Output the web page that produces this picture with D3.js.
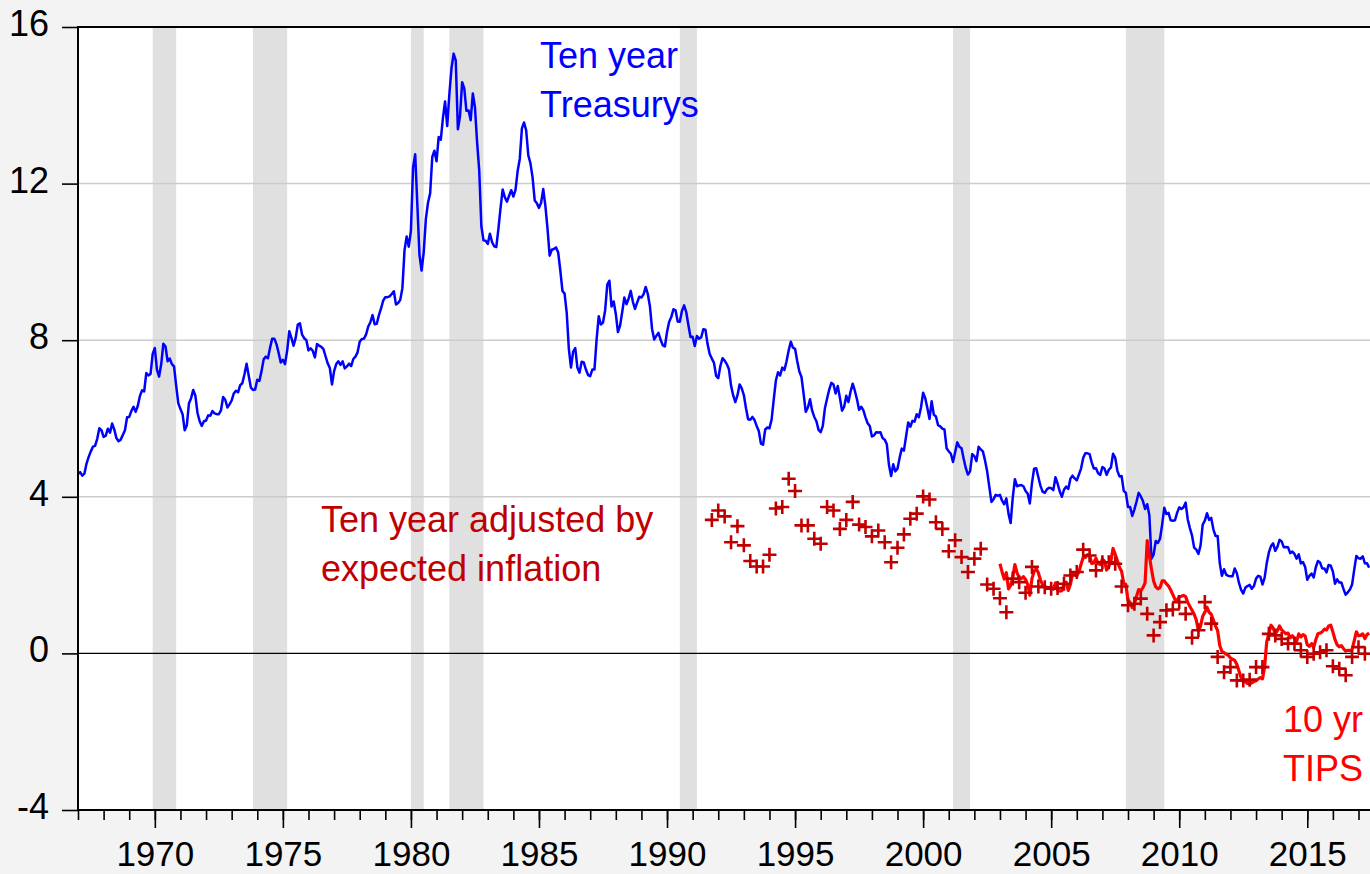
<!DOCTYPE html>
<html>
<head>
<meta charset="utf-8">
<script src="https://cdn.jsdelivr.net/npm/d3@7"></script>
<style>
html,body{margin:0;padding:0;background:#f3f3f3;}
svg{display:block;font-family:"Liberation Sans",Arial,sans-serif;}
</style>
</head>
<body>
<svg id="chart" width="1370" height="874"></svg>
<script>
// ---------------- DATA ----------------
// Ten-year Treasury yield, monthly, starting 1967-01
const treasuryStart = 1967;
const treasury10y = [
4.58,4.63,4.54,4.59,4.85,5.02,5.16,5.28,5.30,5.48,5.75,5.70,
5.53,5.56,5.74,5.64,5.87,5.72,5.50,5.42,5.46,5.58,5.70,6.03,
6.04,6.19,6.30,6.17,6.32,6.57,6.72,6.69,7.16,7.10,7.14,7.65,
7.80,7.24,7.07,7.39,7.91,7.84,7.46,7.53,7.39,7.33,6.84,6.39,
6.24,6.11,5.70,5.83,6.39,6.52,6.73,6.58,6.14,5.93,5.81,5.93,
5.95,6.08,6.07,6.19,6.13,6.11,6.11,6.21,6.55,6.48,6.28,6.36,
6.46,6.64,6.71,6.67,6.85,6.90,7.13,7.40,7.09,6.79,6.73,6.74,
6.99,6.96,7.21,7.51,7.58,7.54,7.81,8.04,8.04,7.90,7.68,7.43,
7.50,7.39,7.73,8.23,8.06,7.86,8.06,8.40,8.43,8.14,8.05,8.00,
7.74,7.79,7.73,7.56,7.90,7.86,7.83,7.77,7.59,7.41,7.29,6.87,
7.21,7.39,7.46,7.37,7.46,7.28,7.33,7.40,7.34,7.52,7.58,7.69,
7.96,8.03,8.04,8.15,8.35,8.46,8.64,8.41,8.42,8.64,8.81,9.01,
9.10,9.10,9.12,9.18,9.25,8.91,8.95,9.03,9.33,10.30,10.65,10.39,
10.80,12.41,12.75,11.47,10.18,9.78,10.25,11.10,11.51,11.75,12.68,12.84,
12.57,13.19,13.12,13.68,14.10,13.47,14.28,14.94,15.32,15.15,13.39,13.72,
14.59,14.43,13.86,13.87,13.62,14.30,13.95,13.06,12.34,10.91,10.55,10.54,
10.46,10.72,10.51,10.40,10.38,10.85,11.38,11.85,11.65,11.54,11.69,11.83,
11.67,11.84,12.32,12.63,13.41,13.56,13.36,12.72,12.52,12.16,11.57,11.50,
11.38,11.51,11.86,11.43,10.85,10.16,10.31,10.33,10.37,10.24,9.78,9.26,
9.19,8.70,7.78,7.30,7.71,7.80,7.30,7.17,7.45,7.43,7.25,7.11,
7.08,7.25,7.25,8.02,8.61,8.40,8.45,8.76,9.42,9.52,8.86,8.99,
8.67,8.21,8.37,8.72,9.09,8.92,9.06,9.26,8.98,8.80,8.96,9.11,
9.09,9.17,9.36,9.18,8.86,8.28,8.02,8.11,8.19,8.01,7.87,7.84,
8.21,8.47,8.59,8.79,8.76,8.48,8.47,8.75,8.89,8.72,8.39,8.08,
8.09,7.85,8.11,8.04,8.07,8.28,8.27,7.90,7.65,7.53,7.42,7.09,
7.03,7.34,7.54,7.48,7.39,7.26,6.84,6.59,6.42,6.59,6.87,6.77,
6.60,6.26,5.98,5.97,6.04,5.96,5.81,5.68,5.36,5.33,5.72,5.77,
5.75,5.97,6.48,6.97,7.18,7.10,7.30,7.24,7.46,7.74,7.96,7.81,
7.78,7.47,7.20,7.06,6.63,6.17,6.28,6.49,6.20,6.04,5.93,5.71,
5.65,5.81,6.27,6.51,6.74,6.91,6.87,6.64,6.83,6.53,6.20,6.30,
6.58,6.42,6.69,6.89,6.71,6.49,6.22,6.30,6.21,6.03,5.88,5.81,
5.54,5.57,5.65,5.64,5.65,5.50,5.46,5.34,4.81,4.53,4.83,4.65,
4.72,5.00,5.23,5.18,5.54,5.90,5.79,5.94,5.92,6.11,6.03,6.28,
6.66,6.52,6.26,5.99,6.44,6.10,6.05,5.83,5.80,5.74,5.72,5.24,
5.16,5.10,4.89,5.14,5.39,5.28,5.24,4.97,4.73,4.57,4.65,5.09,
5.04,4.91,5.28,5.21,5.16,4.93,4.65,4.26,3.87,3.94,4.05,4.03,
4.05,3.90,3.81,3.96,3.57,3.33,3.98,4.45,4.27,4.29,4.30,4.27,
4.15,4.08,3.83,4.35,4.72,4.73,4.50,4.28,4.13,4.10,4.19,4.23,
4.22,4.17,4.50,4.34,4.14,4.00,4.18,4.26,4.20,4.46,4.54,4.47,
4.42,4.57,4.72,4.99,5.11,5.11,5.09,4.88,4.72,4.73,4.60,4.56,
4.76,4.72,4.56,4.69,4.75,5.10,5.00,4.67,4.52,4.53,4.15,4.10,
3.74,3.74,3.51,3.68,3.88,4.10,4.01,3.89,3.69,3.81,3.53,2.42,
2.52,2.87,2.82,2.93,3.29,3.72,3.56,3.59,3.40,3.39,3.40,3.59,
3.73,3.69,3.73,3.85,3.42,3.20,3.01,2.70,2.65,2.54,2.76,3.29,
3.39,3.58,3.41,3.46,3.17,3.00,3.00,2.30,1.98,2.15,2.01,1.98,
1.97,1.97,2.17,2.05,1.80,1.62,1.53,1.68,1.72,1.75,1.65,1.72,
1.91,1.98,1.96,1.76,1.93,2.30,2.58,2.74,2.81,2.62,2.72,2.90,
2.86,2.71,2.72,2.71,2.56,2.60,2.54,2.42,2.53,2.30,2.33,2.21,
1.88,1.98,2.04,1.94,2.20,2.36,2.32,2.17,2.17,2.07,2.26,2.24,
2.09,1.78,1.89,1.81,1.81,1.64,1.50,1.56,1.63,1.76,2.14,2.49,
2.43,2.42,2.48,2.30,2.30,2.19
];

// Ten-year TIPS yield, monthly, starting 2003-01
const tipsStart = 2003;
const tips10y = [
2.29,2.08,1.90,2.06,1.65,1.73,1.94,2.27,2.06,1.93,1.91,1.96,
1.89,1.76,1.49,1.91,2.10,2.16,2.06,1.87,1.75,1.71,1.69,1.68,
1.69,1.64,1.80,1.62,1.59,1.60,1.77,1.82,1.61,1.76,2.02,2.04,
1.98,2.08,2.28,2.45,2.45,2.52,2.50,2.30,2.31,2.43,2.30,2.27,
2.41,2.35,2.13,2.22,2.37,2.68,2.53,2.37,2.20,2.10,1.79,1.76,
1.35,1.30,1.17,1.26,1.46,1.63,1.60,1.68,1.80,2.88,2.50,2.15,
1.85,1.70,1.65,1.68,1.85,1.85,1.78,1.72,1.62,1.50,1.38,1.35,
1.45,1.46,1.48,1.45,1.30,1.20,1.10,1.00,0.85,0.58,0.70,0.95,
1.05,1.18,1.05,1.00,0.85,0.70,0.58,0.20,0.05,0.02,-0.02,-0.05,
-0.12,-0.15,-0.18,-0.28,-0.45,-0.62,-0.72,-0.72,-0.77,-0.78,-0.75,-0.72,
-0.70,-0.65,-0.62,-0.65,-0.35,0.30,0.50,0.72,0.65,0.50,0.58,0.70,
0.60,0.55,0.50,0.52,0.40,0.45,0.38,0.30,0.50,0.42,0.48,0.45,
0.22,0.18,0.25,0.15,0.35,0.50,0.52,0.55,0.62,0.60,0.70,0.72,
0.55,0.35,0.22,0.17,0.20,0.12,0.06,0.08,0.07,0.10,0.32,0.55,
0.45,0.46,0.50,0.38,0.48,0.52
];

// Ten-year yield adjusted by expected inflation, quarterly, starting 1991Q4
const realStart = 1991.75;
const realAdjusted = [
3.41,
3.65,3.50,2.84,3.25,
2.76,2.36,2.22,2.22,
2.52,3.70,3.74,4.46,
4.15,3.27,3.27,2.93,
2.80,3.74,3.65,3.18,
3.41,3.87,3.29,3.23,
2.99,3.14,2.84,2.33,
2.70,3.04,3.44,3.57,
4.01,3.93,3.35,3.18,
2.61,2.89,2.46,2.08,
2.42,2.67,1.76,1.65,
1.41,1.05,1.91,1.82,
1.55,2.21,1.71,1.69,
1.65,1.67,1.78,1.99,
2.08,2.65,2.50,2.12,
2.33,2.33,2.29,1.71,
1.23,1.27,1.40,1.01,
0.46,0.80,1.10,1.12,
1.31,1.01,0.40,0.59,
1.31,0.76,-0.09,-0.48,
-0.35,-0.69,-0.69,-0.67,
-0.35,-0.35,0.50,0.46,
0.37,0.25,0.25,0.08,
-0.09,-0.01,0.03,0.08,
-0.33,-0.39,-0.56,-0.09,
0.16,-0.01
];

// NBER recessions (peak month, trough month)
const recessionStart = ["1969-12","1973-11","1980-01","1981-07","1990-07","2001-03","2007-12"];
const recessionEnd   = ["1970-11","1975-03","1980-07","1982-11","1991-03","2001-11","2009-06"];

const yTicks = [-4, 0, 4, 8, 12, 16];
const yTickLabels = ["-4", "0", "4", "8", "12", "16"];
const yGrid = [4, 8, 12];
const xMajorTicks = [1970, 1975, 1980, 1985, 1990, 1995, 2000, 2005, 2010, 2015];
const xTickLabels = ["1970", "1975", "1980", "1985", "1990", "1995", "2000", "2005", "2010", "2015"];
const xMinorTicks = d3.range(1967, 2018);

const labelTreasury = ["Ten year", "Treasurys"];
const labelAdjusted = ["Ten year adjusted by", "expected inflation"];
const labelTips = ["10 yr", "TIPS"];

// ---------------- LAYOUT ----------------
const L = 78, T = 27, B = 810, R = 1371.3;
const svg = d3.select("#chart");
const FONT = 36;
const AXFONT = 35;

const x = d3.scaleLinear().domain([1967, 2017.5]).range([L, R]);
const y = d3.scaleLinear().domain([-4, 16]).range([B, T]);
const ym = s => { const [a, b] = s.split("-").map(Number); return a + (b - 1) / 12; };

svg.append("rect").attr("width", 1370).attr("height", 874).attr("fill", "#f3f3f3");

svg.append("defs").append("clipPath").attr("id", "plotclip")
  .append("rect").attr("x", L).attr("y", T).attr("width", R - L + 10).attr("height", B - T);

svg.append("rect").attr("x", L).attr("y", T).attr("width", 1370 - L).attr("height", B - T).attr("fill", "#ffffff");

const plot = svg.append("g").attr("clip-path", "url(#plotclip)");

// recession bands
plot.selectAll("rect.rec").data(recessionStart.map((s, i) => [ym(s), ym(recessionEnd[i])]))
  .join("rect").attr("class", "rec")
  .attr("x", d => x(d[0])).attr("width", d => x(d[1]) - x(d[0]))
  .attr("y", T).attr("height", B - T).attr("fill", "#e0e0e0");

// gridlines
plot.selectAll("line.grid").data(yGrid).join("line").attr("class", "grid")
  .attr("x1", L).attr("x2", 1372).attr("y1", d => y(d)).attr("y2", d => y(d))
  .attr("stroke", "#cccccc").attr("stroke-width", 1.5);

// zero line
plot.append("line").attr("x1", L).attr("x2", 1372).attr("y1", y(0)).attr("y2", y(0))
  .attr("stroke", "#000").attr("stroke-width", 1.2);

// treasury line
plot.append("path").datum(treasury10y)
  .attr("d", d3.line().x((d, i) => x(treasuryStart + i / 12)).y(d => y(d)))
  .attr("fill", "none").attr("stroke", "#0000ff").attr("stroke-width", 2.5)
  .attr("stroke-linejoin", "round");

// TIPS line
plot.append("path").datum(tips10y)
  .attr("d", d3.line().x((d, i) => x(tipsStart + i / 12)).y(d => y(d)))
  .attr("fill", "none").attr("stroke", "#ff0000").attr("stroke-width", 3.2)
  .attr("stroke-linejoin", "round");

// adjusted crosses
const cs = 7;
plot.selectAll("path.cross").data(realAdjusted).join("path").attr("class", "cross")
  .attr("transform", (d, i) => `translate(${x(realStart + i / 4)},${y(d)})`)
  .attr("d", `M${-cs},0H${cs}M0,${-cs}V${cs}`)
  .attr("stroke", "#c00000").attr("stroke-width", 2.6).attr("fill", "none");

// text labels
const addLabel = (lines, x0, y0, color) => {
  svg.append("g").selectAll("text").data(lines).join("text")
    .attr("x", x0).attr("y", (d, i) => y0 + i * 48.5)
    .attr("font-size", FONT).attr("fill", color).text(d => d);
};
addLabel(labelTreasury, 540, 68, "#0000ff");
addLabel(labelAdjusted, 321, 532, "#c00000");
addLabel(labelTips, 1283, 732, "#ff0000");

// frame lines
svg.append("line").attr("x1", L).attr("x2", 1370).attr("y1", T).attr("y2", T).attr("stroke", "#000").attr("stroke-width", 2);
svg.append("line").attr("x1", L).attr("x2", L).attr("y1", T - 1).attr("y2", B + 1).attr("stroke", "#000").attr("stroke-width", 2);
svg.append("line").attr("x1", L).attr("x2", 1370).attr("y1", B).attr("y2", B).attr("stroke", "#000").attr("stroke-width", 2);

// x axis minor ticks
const gxMinor = svg.append("g").attr("transform", `translate(0,${B})`)
  .call(d3.axisBottom(x).tickValues(xMinorTicks).tickSize(10).tickFormat(""));
gxMinor.select(".domain").remove();
gxMinor.selectAll(".tick line").attr("stroke", "#000").attr("stroke-width", 1.6);

// x axis major ticks + labels
const gxMajor = svg.append("g").attr("transform", `translate(0,${B})`)
  .call(d3.axisBottom(x).tickValues(xMajorTicks).tickSize(18)
    .tickFormat((d, i) => xTickLabels[i]));
gxMajor.select(".domain").remove();
gxMajor.selectAll(".tick line").attr("stroke", "#000").attr("stroke-width", 1.6);
gxMajor.selectAll(".tick text").attr("y", 56).attr("dy", 0)
  .attr("font-size", AXFONT).attr("font-family", "Liberation Sans, Arial, sans-serif").attr("fill", "#000");

// y axis
const gy = svg.append("g").attr("transform", `translate(${L},0)`)
  .call(d3.axisLeft(y).tickValues(yTicks).tickSize(16)
    .tickFormat((d, i) => yTickLabels[i]));
gy.select(".domain").remove();
gy.selectAll(".tick line").attr("stroke", "#000").attr("stroke-width", 1.6);
gy.selectAll(".tick text").attr("x", -29).attr("dy", 8.5)
  .attr("font-size", FONT).attr("font-family", "Liberation Sans, Arial, sans-serif").attr("fill", "#000");
</script>
</body>
</html>
